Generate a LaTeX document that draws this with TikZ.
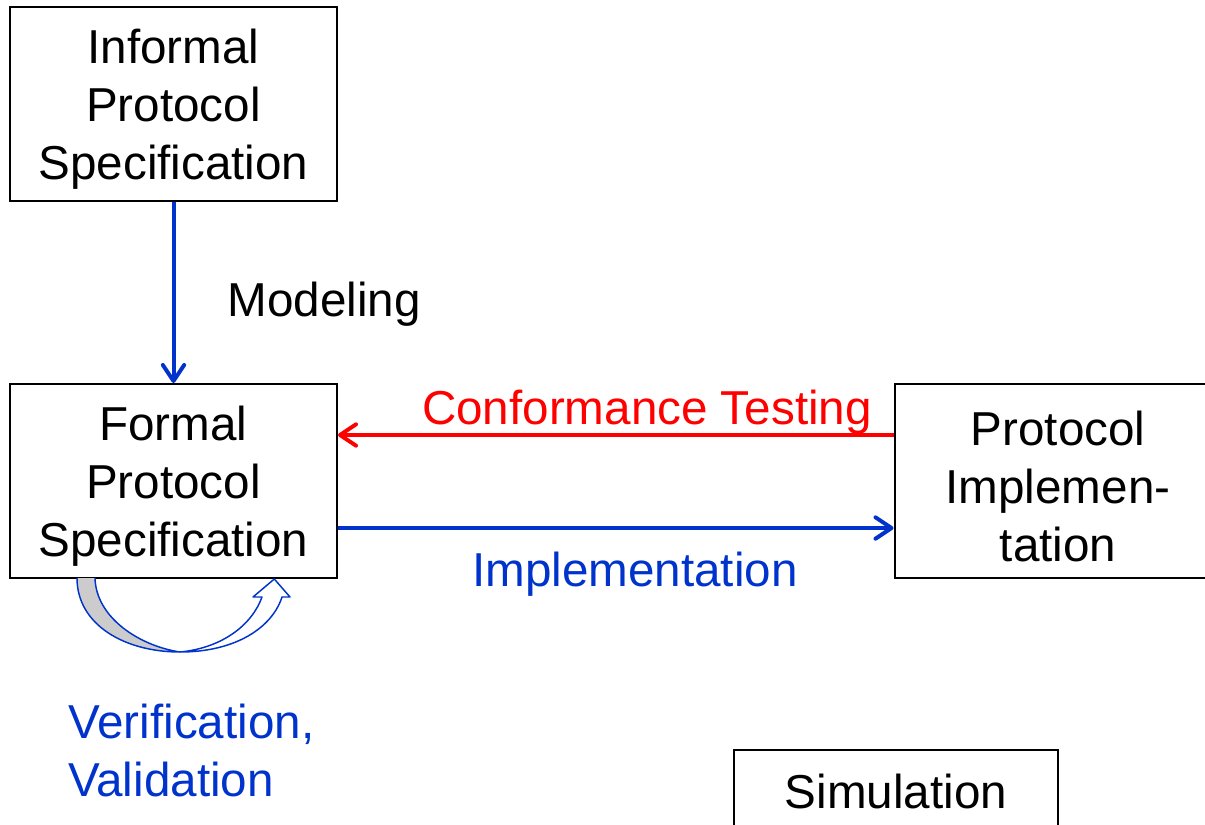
\documentclass[tikz,border=0pt]{standalone}
\usepackage{fontspec}
\setmainfont{Liberation Sans}
\usetikzlibrary{arrows.meta}
\definecolor{pblue}{RGB}{0,51,204}
\definecolor{pred}{RGB}{255,0,0}
\newcommand\slidefont{\fontsize{35.7pt}{43.5pt}\selectfont}
\begin{document}
\begin{tikzpicture}[x=0.75pt,y=-0.75pt,
  box/.style={draw=black,line width=1.5pt,minimum width=245.25pt,minimum height=145.5pt,
    inner sep=0pt},
  boxtext/.style 2 args={label={[inner sep=0pt,align=center,font=\slidefont,yshift=#2]center:#1}},
  lbl/.style={inner sep=0pt,font=\slidefont},
  flow/.style={line width=3pt,-{Straight Barb[length=12pt,width=16pt,round]}},
  block/.style={draw=pblue,line width=1.1pt,line join=round}]
\useasboundingbox (0,0) rectangle (1205,824);
\clip (0,0) rectangle (1205,824);

% boxes
\node[box,boxtext={Informal\\Protocol\\Specification}{-4pt}] (inf) at (173.5,104) {};
\node[box,boxtext={Formal\\Protocol\\Specification}{-4pt}] (form) at (173.5,481) {};
\node[box,boxtext={Protocol\\Implemen-\\tation}{-4pt}] (impl) at (1058,481) {};
\node[box,minimum width=243pt,minimum height=61.5pt,boxtext={Simulation}{0pt}] (sim) at (896,791) {};

% connectors
\draw[flow,pblue] (inf.south) -- (form.north);
\draw[flow,pred] ([yshift=34.5pt]impl.west) -- ([yshift=34.5pt]form.east);
\draw[flow,pblue] ([yshift=-35.25pt]form.east) -- ([yshift=-35.25pt]impl.west);

% labels
\node[lbl] (model) at (324,304) {Modeling};
\node[lbl,text=pred] (conf) at (647,412) {Conformance Testing};
\node[lbl,text=pblue] (implab) at (635,574) {Implementation};
\node[lbl,text=pblue,align=left,anchor=west] (verif) at (68,750) {Verification,\\Validation};

% curved block arrow under the formal specification
\fill[black!20] (77,578) .. controls (77,625) and (125,652) .. (180,652)
  .. controls (140,646) and (96,618) .. (95,578) -- cycle;
\draw[block] (77,578) .. controls (77,625) and (125,652) .. (180,652)
  .. controls (140,646) and (96,618) .. (95,578);
\draw[block,fill=white] (180,652) .. controls (235,652) and (272,628) .. (282,597)
  -- (290,597) -- (274.3,579) -- (253,597) -- (262,597)
  .. controls (252,625) and (222,648) .. (180,652) -- cycle;
\end{tikzpicture}
\end{document}
